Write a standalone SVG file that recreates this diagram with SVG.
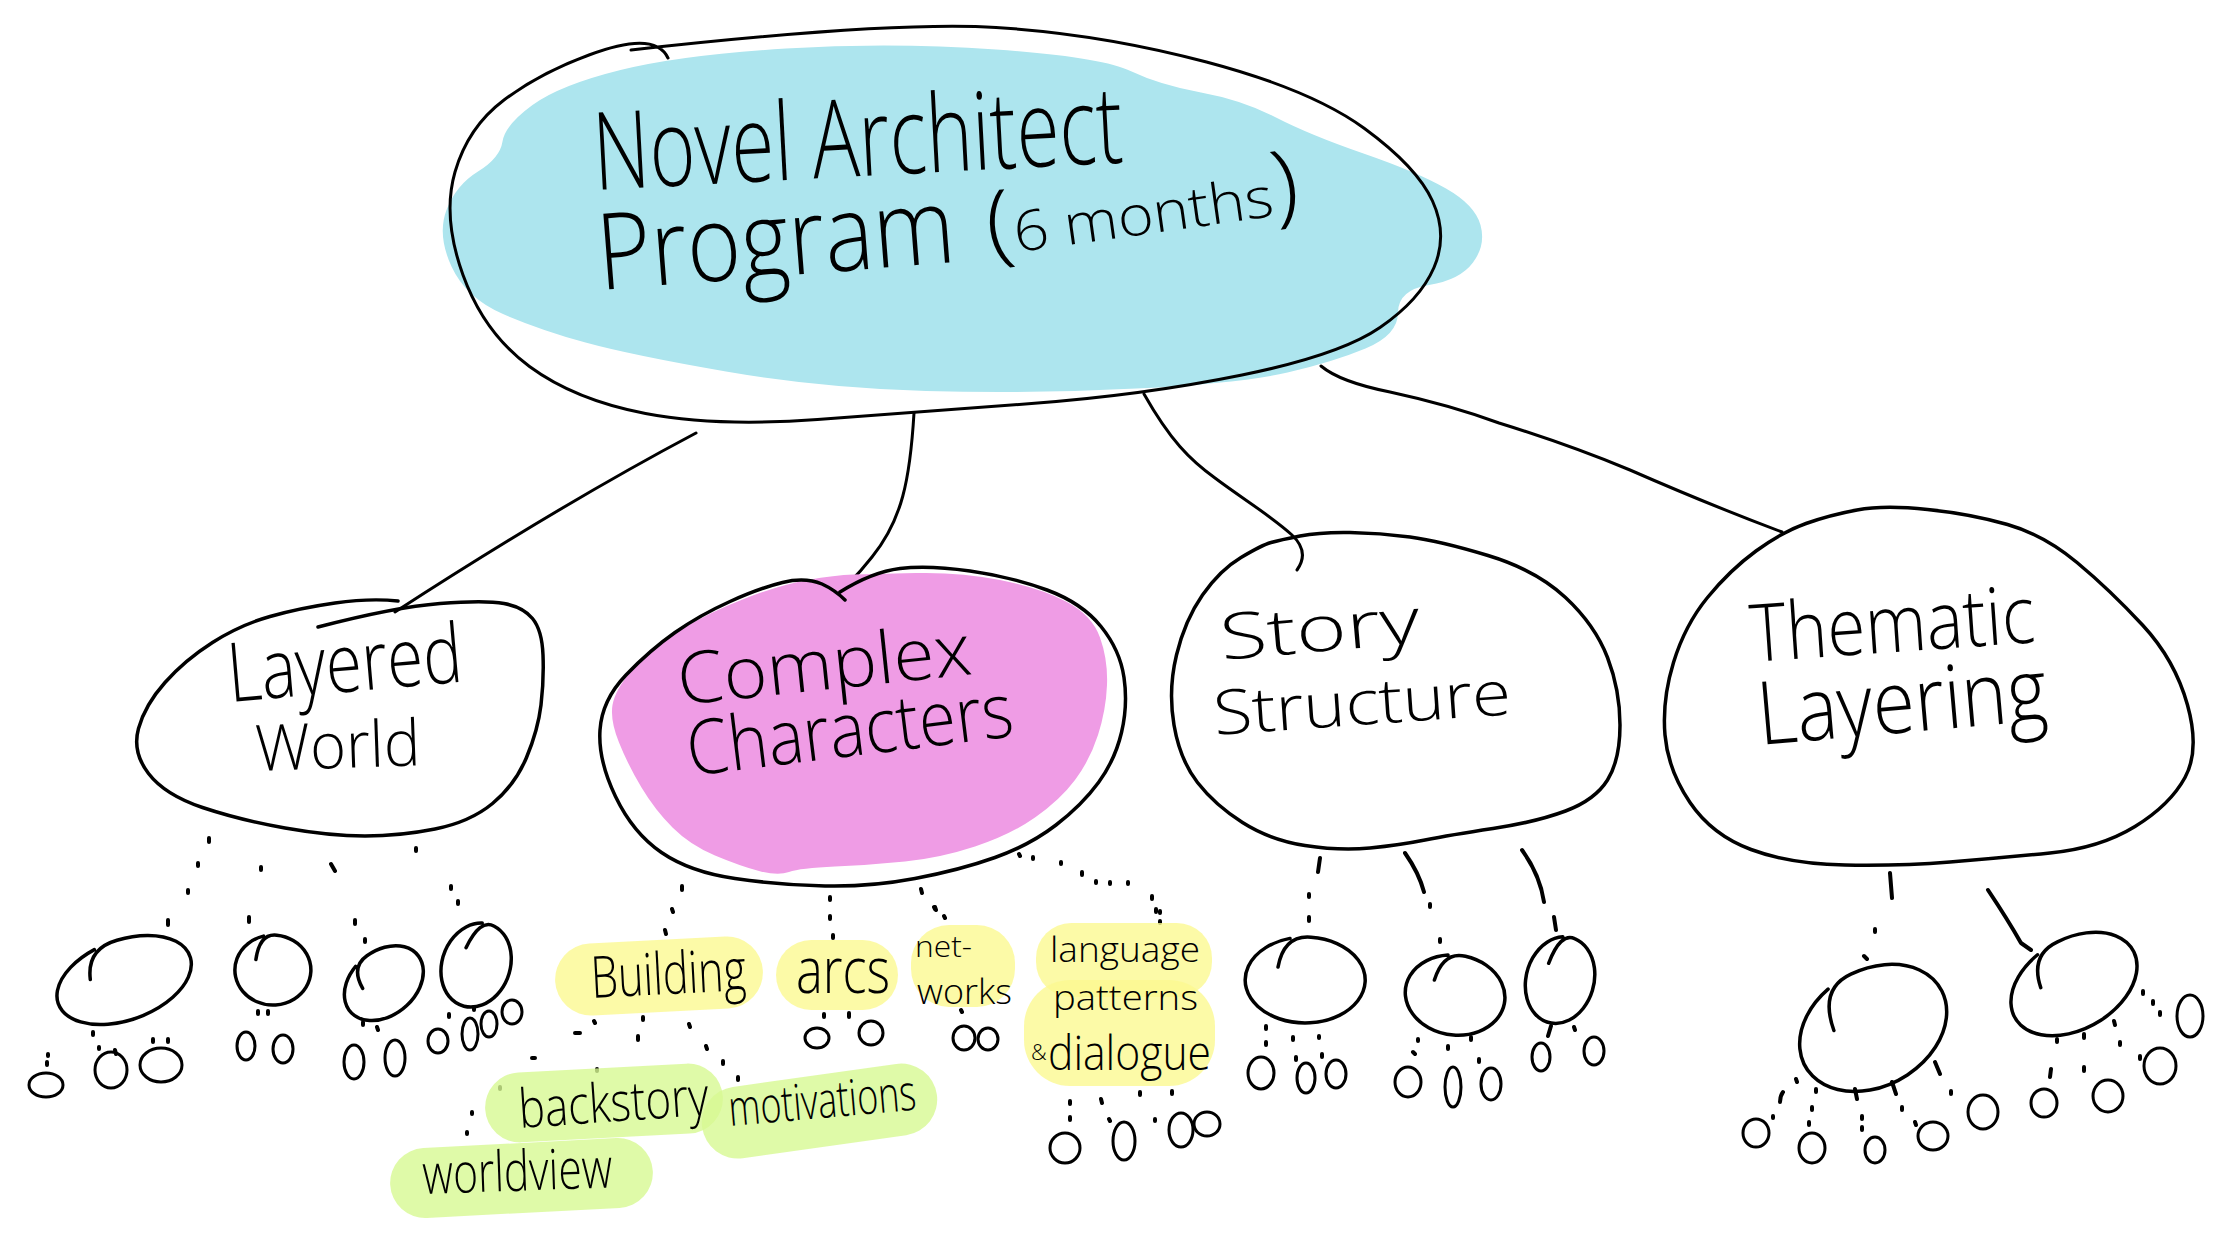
<svg xmlns="http://www.w3.org/2000/svg" width="2238" height="1246" viewBox="0 0 2238 1246">
<style>
.ol{fill:none;stroke:#000;stroke-width:3.5;stroke-linecap:round;stroke-linejoin:round}
.thin{stroke-width:3}
.dots{fill:none;stroke:#000;stroke-width:4;stroke-linecap:round;stroke-linejoin:round}
.hw{font-family:"Open Sans","Liberation Sans",sans-serif;font-weight:300;fill:#000}
.yel{fill:#FBF991;opacity:0.8}
.grn{fill:#D7F992;opacity:0.8}
</style>
<rect width="2238" height="1246" fill="#fff"/>

<g id="connectors">
  <path class="ol thin" d="M696,433 Q560,505 395,612"/>
  <path class="ol thin" d="M914,413 C910,480 902,520 872,557 Q850,585 822,608"/>
  <path class="ol thin" d="M1144,394 C1170,440 1190,460 1215,478 C1240,497 1270,515 1292,535 Q1310,552 1297,570"/>
  <path class="ol thin" d="M1321,366 Q1340,382 1390,392 Q1450,405 1499,423 Q1570,445 1630,470 Q1710,505 1782,532"/>
  <path class="dots" d="M209,838 l0,4 M198,863 l0,3 M188,890 l0,3 M261,867 l0,3 M331,864 l4,7 M416,848 l0,3 M451,886 l0,3 M458,901 l0,3 M168,920 l0,5 M249,917 l0,5 M355,920 l0,4 M365,939 l0,3 M48,1054 l0,2 M47,1062 l0,3 M99,1047 l0,2 M115,1050 l1,4 M153,1039 l0,3 M168,1039 l0,3 M93,1032 l0,3 M258,1011 l0,3 M268,1011 l0,3 M363,1022 l0,3 M377,1027 l1,3 M449,1014 l0,3 M474,1007 l0,3"/>
  <path class="dots" d="M682,886 l0,4 M672,909 l1,3 M830,897 l0,3 M830,916 l0,3 M921,889 l1,4 M935,907 l1,3 M1019,854 l1,2 M1033,857 l0,2 M1061,862 l0,2 M1082,872 l0,3 M1096,881 l0,2 M1110,882 l0,2 M1128,882 l0,2 M1152,896 l0,3 M1156,909 l0,3 M665,930 l1,4 M594,1021 l1,2 M575,1033 l5,0 M643,1017 l0,3 M638,1036 l0,4 M689,1024 l1,3 M706,1046 l1,3 M723,1061 l0,3 M738,1077 l0,3 M532,1058 l3,0 M597,1069 l0,2 M500,1087 l0,2 M472,1112 l0,2 M467,1132 l0,2 M833,935 l0,3 M824,1014 l0,3 M849,1013 l0,4 M934,907 l1,2 M944,916 l1,2 M961,1010 l1,2 M1160,911 l0,2 M1160,921 l0,2 M1070,1101 l0,3 M1070,1117 l0,3 M1101,1099 l1,4 M1109,1119 l1,2 M1140,1092 l0,3 M1172,1091 l0,3 M1155,1119 l0,2"/>
  <path class="dots" d="M1320,858 l-2,14 M1309,894 l0,3 M1309,917 l0,4 M1405,853 q14,20 19,39 M1430,904 l0,3 M1440,939 l0,3 M1522,850 q18,25 22,52 M1554,917 l2,13 M1266,1026 l0,3 M1266,1042 l0,3 M1293,1037 l0,3 M1319,1036 l0,2 M1296,1057 l0,3 M1322,1054 l0,3 M1418,1039 l0,2 M1413,1052 l2,2 M1448,1046 l0,3 M1471,1037 l0,3 M1479,1059 l0,3 M1551,1026 l-3,10 M1574,1027 l1,3"/>
  <path class="dots" d="M1890,873 l2,25 M1875,929 l0,3 M1864,956 l3,3 M1988,890 q20,30 33,53 l10,7 M1796,1079 l1,3 M1783,1092 q-3,4 -3,10 M1816,1089 l0,3 M1812,1107 l0,3 M1809,1122 l0,3 M1855,1089 l2,10 M1862,1116 l0,3 M1862,1127 l0,3 M1892,1082 l4,12 M1902,1107 l0,3 M1915,1122 l1,3 M1935,1062 l5,12 M1951,1091 l0,3 M1773,1116 l0,2 M2057,1039 l0,3 M2051,1069 l-1,8 M2084,1034 l0,4 M2084,1067 l0,4 M2114,1021 l1,4 M2120,1042 l0,3 M2140,1056 l0,3 M2143,991 l0,3 M2153,1001 l0,3 M2160,1012 l0,3"/>
</g>

<g id="node-main">
  <path fill="#ADE5EE" d="M502.5,141.5 Q505,125 532.5,105 Q560,85 620.5,70 Q681,55 786,48.5 Q891,42 996,49.5 Q1101,57 1130.5,71 Q1160,85 1201,92.5 Q1242,100 1276,117.5 Q1310,135 1363.5,153.5 Q1417,172 1446,188.5 Q1475,205 1480.5,225 Q1486,245 1473,262.5 Q1460,280 1429,285 Q1398,290 1398,312.5 Q1398,335 1365.5,348.5 Q1333,362 1287.5,372.5 Q1242,383 1136.5,388.5 Q1031,394 926,391 Q821,388 726,371.5 Q631,355 585.5,342.5 Q540,330 503,314 Q466,298 451.5,266.5 Q437,235 446.5,210 Q456,185 478,171.5 Q500,158 502.5,141.5 Z"/>
  <path class="ol thin" d="M631,50 Q891,21 996,27.5 Q1101,34 1206.5,62 Q1312,90 1364.5,128.5 Q1417,167 1432.5,201 Q1448,235 1434,267.5 Q1420,300 1380,327.5 Q1340,355 1242,375 Q1144,395 1031.5,403.5 Q919,412 817.5,419.5 Q716,427 645.5,413.5 Q575,400 529.5,366.5 Q484,333 463,275 Q442,217 455,172 Q468,127 504,100 Q540,73 589,55 Q655,30 668,58"/>
  <text class="hw" x="595" y="190" font-size="108" textLength="530" lengthAdjust="spacingAndGlyphs" transform="rotate(-3 595 190)">Novel Architect</text>
  <text class="hw" x="600" y="290" font-size="106" textLength="358" lengthAdjust="spacingAndGlyphs" transform="rotate(-4.5 600 290)">Program</text>
  <text class="hw" x="990" y="256" textLength="315" lengthAdjust="spacingAndGlyphs" transform="rotate(-8 990 256)"><tspan font-size="90">(</tspan><tspan font-size="56">6 months</tspan><tspan font-size="90">)</tspan></text>
</g>

<g id="node-layered-world">
  <path class="ol" d="M318,627 Q395,607 440,603.5 Q485,600 504,603.5 Q523,607 532.5,618.5 Q542,630 543,655 Q544,680 541,705 Q538,730 526.5,757.5 Q515,785 492.5,803.5 Q470,822 435,829 Q400,836 365,836 Q330,836 285,828 Q240,820 202.5,807.5 Q165,795 148.5,773.5 Q132,752 138.5,728.5 Q145,705 165,682.5 Q185,660 212.5,642.5 Q240,625 270,616.5 Q300,608 335,603 Q370,598 398,601"/>
  <text class="hw" x="230" y="702" font-size="82" textLength="235" lengthAdjust="spacingAndGlyphs" transform="rotate(-5 230 702)">Layered</text>
  <text class="hw" x="256" y="771" font-size="64" textLength="165" lengthAdjust="spacingAndGlyphs" transform="rotate(-2 256 771)">World</text>
</g>

<g id="node-complex-characters">
  <path fill="#EF9CE5" d="M853.5,574.5 Q872,574 916,573 Q960,572 1000,580 Q1040,588 1066,601.5 Q1092,615 1100,637.5 Q1108,660 1107,685 Q1106,710 1098,735 Q1090,760 1075,780 Q1060,800 1035,817.5 Q1010,835 975,846.5 Q940,858 905,861.5 Q870,865 835,866.5 Q800,868 789,872 Q778,876 759,871 Q740,866 715,855.5 Q690,845 672.5,827.5 Q655,810 641.5,787.5 Q628,765 619,742.5 Q610,720 612.5,705 Q615,690 632.5,669 Q650,648 680,630 Q710,612 745,598.5 Q780,585 807.5,580 Q835,575 853.5,574.5 Z"/>
  <path class="ol" d="M840,592 Q872,572 900,568.5 Q928,565 970,571 Q1012,577 1047,590 Q1082,603 1101,626.5 Q1120,650 1124,677.5 Q1128,705 1121.5,732.5 Q1115,760 1098.5,782.5 Q1082,805 1056,825 Q1030,845 995,857.5 Q960,870 915,878.5 Q870,887 825,886 Q780,885 735,878.5 Q690,872 661.5,852.5 Q633,833 615.5,796.5 Q598,760 600,730 Q602,700 626,675 Q650,650 675,632.5 Q700,615 730,601.5 Q760,588 782.5,582.5 Q805,577 822,584 Q835,590 845,600"/>
  <text class="hw" x="680" y="705" font-size="72" textLength="295" lengthAdjust="spacingAndGlyphs" transform="rotate(-6 680 705)">Complex</text>
  <text class="hw" x="690" y="776" font-size="76" textLength="328" lengthAdjust="spacingAndGlyphs" transform="rotate(-7 690 776)">Characters</text>
</g>

<g id="node-story-structure">
  <path class="ol" d="M1271,542.5 Q1280,540 1300,536 Q1320,532 1350,532.5 Q1380,533 1410,537 Q1440,541 1488,555.5 Q1536,570 1565.5,597.5 Q1595,625 1607.5,657.5 Q1620,690 1620,725 Q1620,760 1607.5,780 Q1595,800 1565.5,811 Q1536,822 1493,828.5 Q1450,835 1425,840 Q1400,845 1370,848 Q1340,851 1305,845.5 Q1270,840 1242.5,822.5 Q1215,805 1197.5,782.5 Q1180,760 1174,725 Q1168,690 1176.5,655 Q1185,620 1202.5,595 Q1220,570 1241,557.5 Q1262,545 1271,542.5 Z"/>
  <text class="hw" x="1222" y="660" font-size="64" textLength="200" lengthAdjust="spacingAndGlyphs" transform="rotate(-5 1222 660)">Story</text>
  <text class="hw" x="1215" y="735" font-size="62" textLength="298" lengthAdjust="spacingAndGlyphs" transform="rotate(-4 1215 735)">Structure</text>
</g>

<g id="node-thematic-layering">
  <path class="ol" d="M1756,551 Q1782,532 1806,523.5 Q1830,515 1857,510 Q1884,505 1927.5,509.5 Q1971,514 2007.5,524.5 Q2044,535 2077,562.5 Q2110,590 2142.5,625 Q2175,660 2187.5,705 Q2200,750 2185,777.5 Q2170,805 2135,826.5 Q2100,848 2050,853 Q2000,858 1950,862 Q1900,866 1845,865 Q1790,864 1751,849.5 Q1712,835 1690,802.5 Q1668,770 1665,735 Q1662,700 1673.5,662.5 Q1685,625 1707.5,597.5 Q1730,570 1756,551 Z"/>
  <text class="hw" x="1752" y="662" font-size="80" textLength="285" lengthAdjust="spacingAndGlyphs" transform="rotate(-4 1752 662)">Thematic</text>
  <text class="hw" x="1760" y="745" font-size="88" textLength="290" lengthAdjust="spacingAndGlyphs" transform="rotate(-5 1760 745)">Layering</text>
</g>

<g id="node-lw-children">
  <path class="ol" transform="translate(124 980) rotate(-20)" d="M-31.5,-12 Q-24.5,-42 7,-39.8 A70 40 0 1 1 -17.5,-38.7"/>
  <path class="ol" transform="translate(273 970)" d="M-17.1,-10.5 Q-13.3,-36.8 3.8,-34.8 A38 35 0 1 1 -9.5,-33.9"/>
  <path class="ol" transform="translate(384 983) rotate(-40)" d="M-19.8,-9.6 Q-15.4,-33.6 4.4,-31.8 A44 32 0 1 1 -11,-31"/>
  <path class="ol" transform="translate(476 965) rotate(20)" d="M-15.3,-12.9 Q-11.9,-45.2 3.4,-42.8 A34 43 0 1 1 -8.5,-41.6"/>
  <g class="ol thin">
    <ellipse cx="46" cy="1085" rx="17" ry="12"/>
    <ellipse cx="111" cy="1070" rx="16" ry="18"/>
    <ellipse cx="161" cy="1065" rx="21" ry="17"/>
    <ellipse cx="246" cy="1046" rx="9" ry="14"/>
    <ellipse cx="283" cy="1049" rx="10" ry="14"/>
    <ellipse cx="354" cy="1062" rx="10" ry="17"/>
    <ellipse cx="395" cy="1058" rx="10" ry="18"/>
    <ellipse cx="438" cy="1041" rx="10" ry="12"/>
    <ellipse cx="470" cy="1034" rx="8" ry="16"/>
    <ellipse cx="489" cy="1024" rx="8" ry="13"/>
    <ellipse cx="512" cy="1012" rx="10" ry="12"/>
  </g>
</g>

<g id="node-building">
  <rect class="yel" x="555" y="940" width="208" height="72" rx="36" transform="rotate(-3 659 976)"/>
  <text class="hw" x="592" y="998" font-size="58" textLength="155" lengthAdjust="spacingAndGlyphs" transform="rotate(-3 592 998)">Building</text>
</g>
<g id="node-arcs">
  <rect class="yel" x="776" y="940" width="122" height="70" rx="35"/>
  <text class="hw" x="796" y="993" font-size="64" textLength="94" lengthAdjust="spacingAndGlyphs">arcs</text>
  <g class="ol thin"><ellipse cx="817" cy="1038" rx="12" ry="10"/><ellipse cx="871" cy="1033" rx="12" ry="12"/></g>
</g>
<g id="node-networks">
  <rect class="yel" x="911" y="925" width="104" height="82" rx="38"/>
  <text class="hw"><tspan x="915" y="957" font-size="30" textLength="57" lengthAdjust="spacingAndGlyphs">net-</tspan><tspan x="917" y="1004" font-size="34" textLength="95" lengthAdjust="spacingAndGlyphs">works</tspan></text>
  <g class="ol thin"><ellipse cx="964" cy="1038" rx="11" ry="12"/><ellipse cx="988" cy="1039" rx="10" ry="11"/></g>
</g>
<g id="node-language">
  <rect class="yel" x="1036" y="923" width="176" height="74" rx="35"/>
  <rect class="yel" x="1024" y="980" width="191" height="106" rx="46"/>
  <text class="hw"><tspan x="1050" y="962" font-size="35" textLength="150" lengthAdjust="spacingAndGlyphs">language</tspan><tspan x="1053" y="1010" font-size="34" textLength="145" lengthAdjust="spacingAndGlyphs">patterns</tspan><tspan x="1031" y="1060" font-size="22">&amp;</tspan><tspan x="1048" y="1070" font-size="48" textLength="163" lengthAdjust="spacingAndGlyphs">dialogue</tspan></text>
  <g class="ol thin">
    <ellipse cx="1065" cy="1148" rx="15" ry="15"/>
    <ellipse cx="1124" cy="1141" rx="11" ry="19"/>
    <ellipse cx="1181" cy="1130" rx="12" ry="17"/>
    <ellipse cx="1207" cy="1124" rx="13" ry="12"/>
  </g>
</g>
<g id="node-backstory">
  <rect class="grn" x="485" y="1068" width="238" height="70" rx="35" transform="rotate(-3 604 1103)"/>
  <text class="hw" x="520" y="1128" font-size="54" textLength="190" lengthAdjust="spacingAndGlyphs" transform="rotate(-4 520 1128)">backstory</text>
</g>
<g id="node-worldview">
  <rect class="grn" x="390" y="1143" width="263" height="70" rx="35" transform="rotate(-3 521 1178)"/>
  <text class="hw" x="423" y="1194" font-size="56" textLength="190" lengthAdjust="spacingAndGlyphs" transform="rotate(-2 423 1194)">worldview</text>
</g>
<g id="node-motivations">
  <rect class="grn" x="701" y="1075" width="237" height="72" rx="36" transform="rotate(-8 820 1111)"/>
  <text class="hw" x="730" y="1126" font-size="50" textLength="188" lengthAdjust="spacingAndGlyphs" transform="rotate(-5 730 1126)">motivations</text>
</g>

<g id="node-ss-children">
  <path class="ol" transform="translate(1305 980)" d="M-27,-12.9 Q-21,-45.2 6,-42.8 A60 43 0 1 1 -15,-41.6"/>
  <path class="ol" transform="translate(1455 995) rotate(8)" d="M-22.5,-12 Q-17.5,-42 5,-39.8 A50 40 0 1 1 -12.5,-38.7"/>
  <path class="ol" transform="translate(1560 980) rotate(15)" d="M-15.3,-13.2 Q-11.9,-46.2 3.4,-43.8 A34 44 0 1 1 -8.5,-42.6"/>
  <g class="ol thin">
    <ellipse cx="1261" cy="1073" rx="13" ry="16"/>
    <ellipse cx="1306" cy="1078" rx="9" ry="15"/>
    <ellipse cx="1336" cy="1074" rx="10" ry="14"/>
    <ellipse cx="1408" cy="1082" rx="13" ry="15"/>
    <ellipse cx="1453" cy="1087" rx="8" ry="20"/>
    <ellipse cx="1491" cy="1084" rx="10" ry="16"/>
    <ellipse cx="1541" cy="1057" rx="9" ry="14"/>
    <ellipse cx="1594" cy="1051" rx="10" ry="14"/>
  </g>
</g>

<g id="node-tl-children">
  <path class="ol" transform="translate(1873 1028) rotate(-30)" d="M-35.1,-17.4 Q-27.3,-60.9 7.8,-57.7 A78 58 0 1 1 -19.5,-56.1"/>
  <path class="ol" transform="translate(2074 984) rotate(-30)" d="M-30.6,-13.5 Q-23.8,-47.3 6.8,-44.8 A68 45 0 1 1 -17,-43.6"/>
  <g class="ol thin">
    <ellipse cx="1756" cy="1133" rx="13" ry="14"/>
    <ellipse cx="1812" cy="1148" rx="13" ry="15"/>
    <ellipse cx="1875" cy="1150" rx="10" ry="13"/>
    <ellipse cx="1933" cy="1136" rx="15" ry="14"/>
    <ellipse cx="1983" cy="1112" rx="15" ry="17"/>
    <ellipse cx="2044" cy="1103" rx="13" ry="14"/>
    <ellipse cx="2108" cy="1096" rx="15" ry="16"/>
    <ellipse cx="2160" cy="1066" rx="16" ry="18"/>
    <ellipse cx="2190" cy="1016" rx="13" ry="21"/>
  </g>
</g>
</svg>
